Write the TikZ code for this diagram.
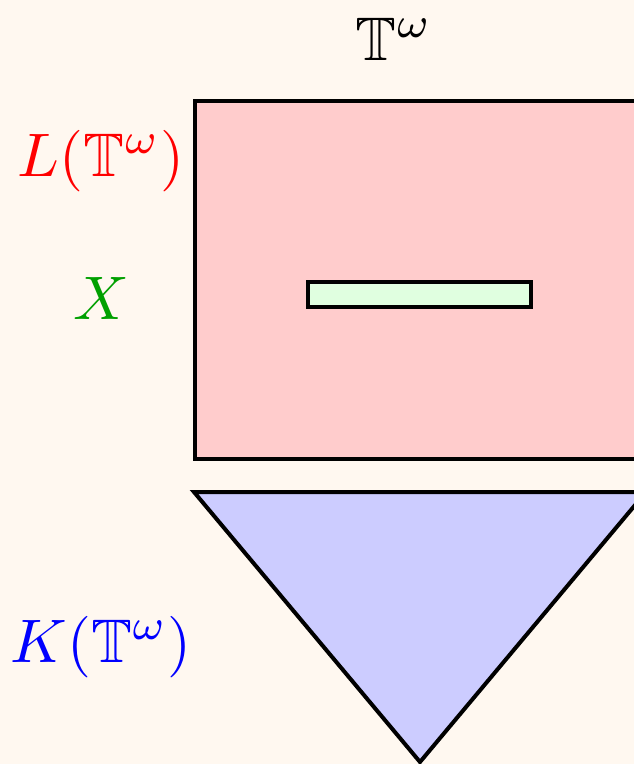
\documentclass[tikz,border=0pt]{standalone}
\usepackage{amssymb}
\usepackage{graphicx}
\definecolor{paper}{RGB}{255,248,240}
\definecolor{pinkfill}{RGB}{255,204,204}
\definecolor{mintfill}{RGB}{224,255,224}
\definecolor{bluefill}{RGB}{204,204,255}
\definecolor{labgreen}{RGB}{0,160,0}
\newcommand{\biglabel}[1]{\scalebox{6.15}{$#1$}}
\begin{document}
\begin{tikzpicture}[x=1pt,y=-1pt,line width=4pt,
  lab/.style={anchor=base,inner sep=0pt}]
\fill[paper] (0,0) rectangle (634,764);
\clip (0,0) rectangle (634,764);
% shapes
\draw[fill=pinkfill] (195,101) rectangle (660,459);
\draw[fill=mintfill] (308,282) rectangle (531,307);
\draw[fill=bluefill] (194,492) -- (420,762) -- (646,492) -- cycle;
% labels
\node[lab] (tw) at (394,60) {\biglabel{\mathbb{T}^\omega}};
\node[lab,text=red] (ltw) at (101,176) {\biglabel{L(\mathbb{T}^\omega)}};
\node[lab,text=labgreen] (xset) at (101,319) {\biglabel{X}};
\node[lab,text=blue] (ktw) at (101,662) {\biglabel{K(\mathbb{T}^\omega)}};
\end{tikzpicture}
\end{document}
